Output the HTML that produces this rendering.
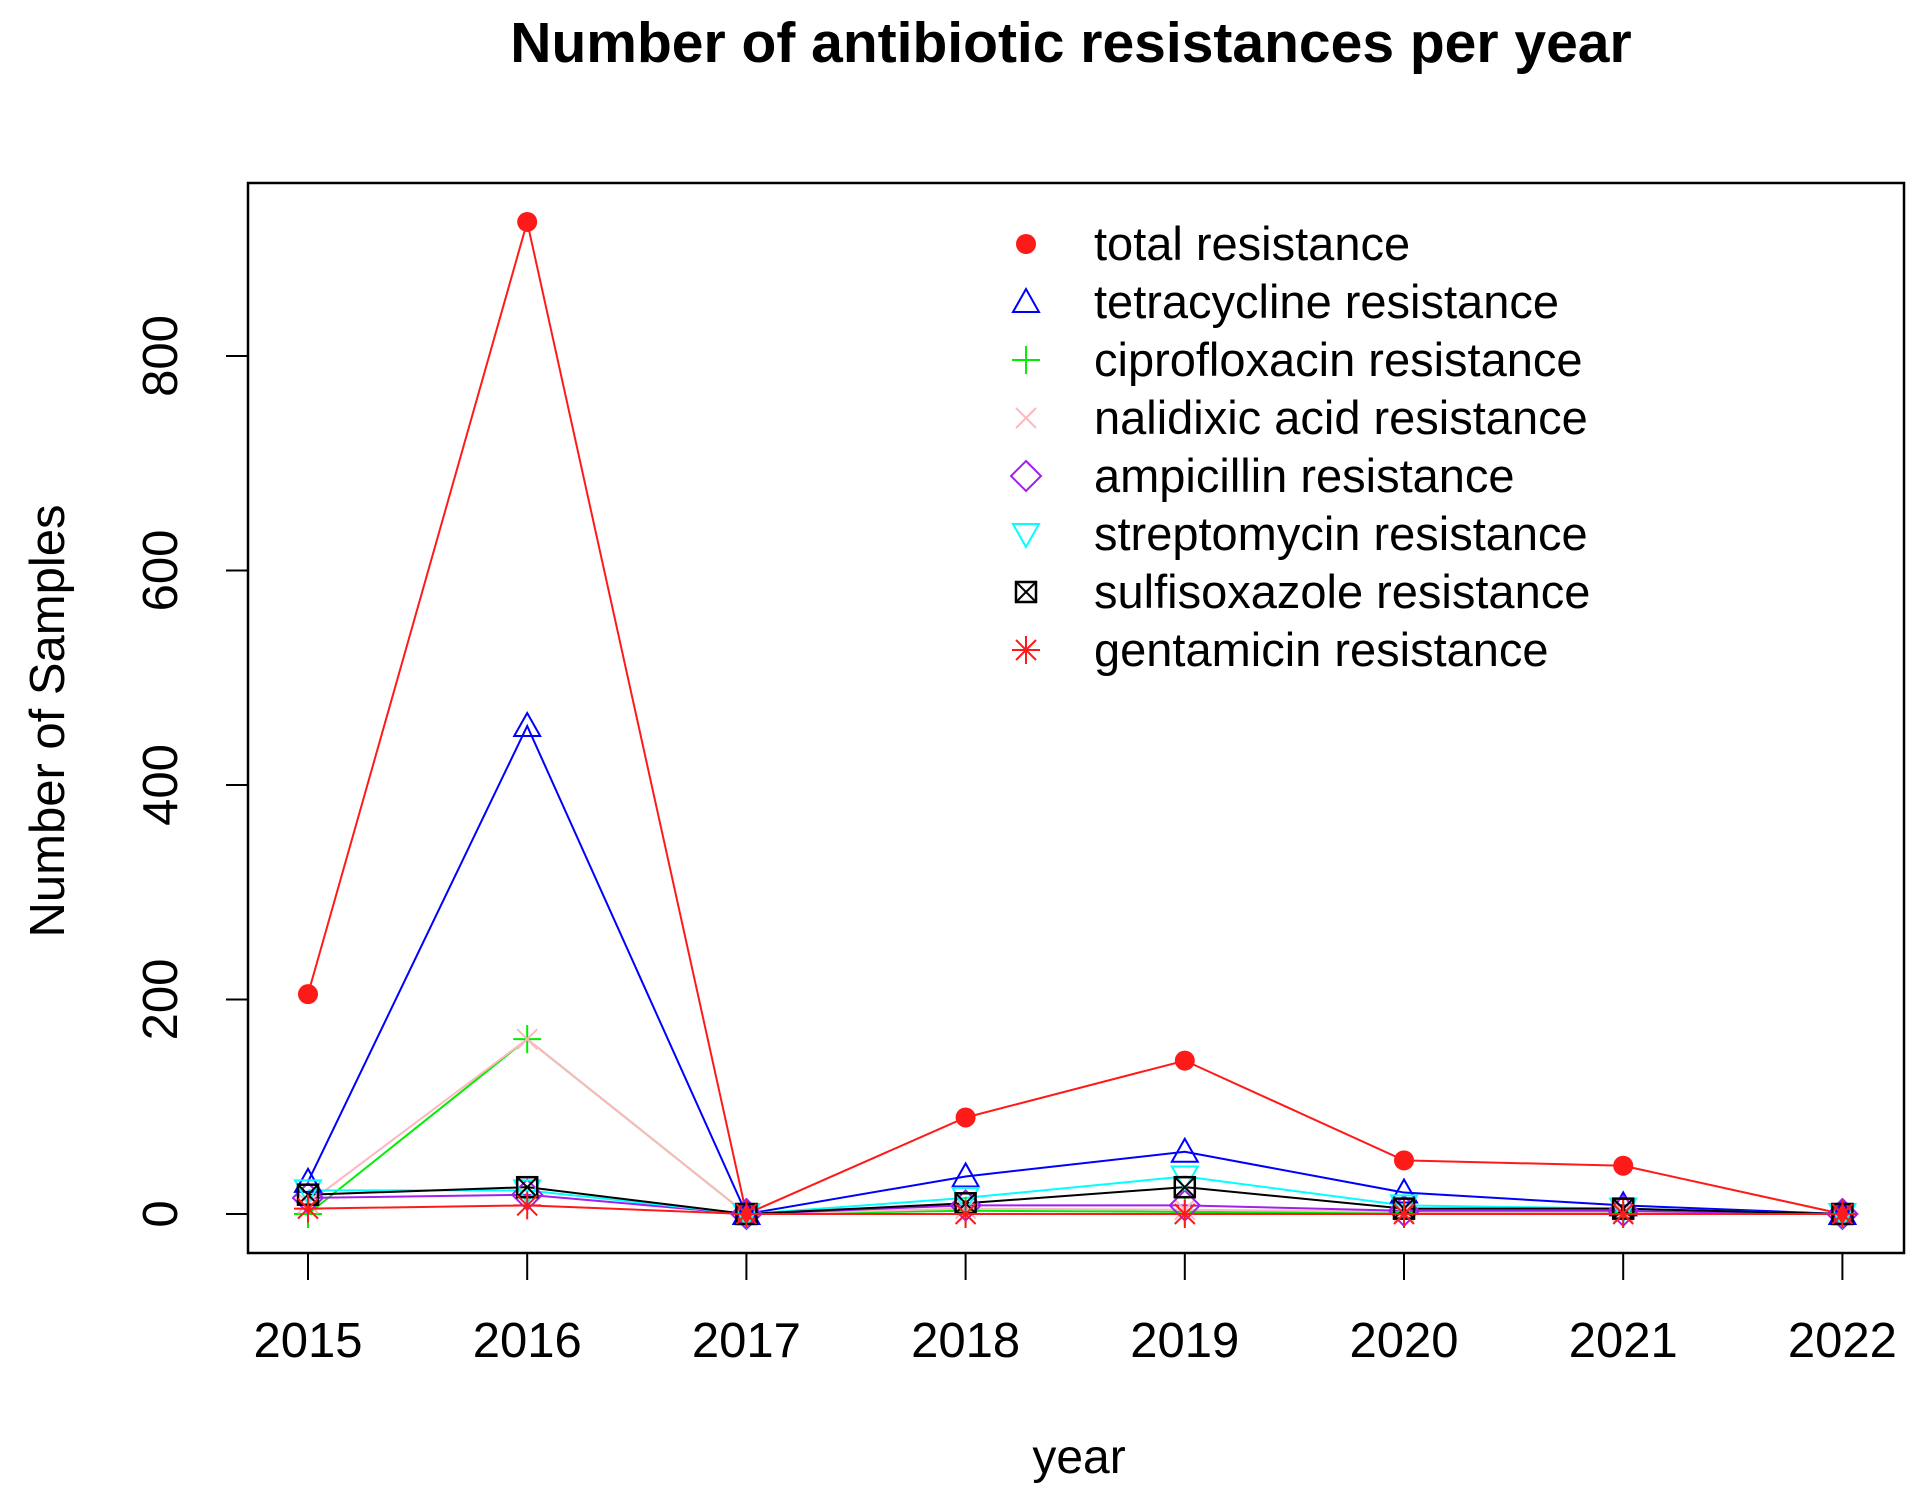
<!DOCTYPE html>
<html><head><meta charset="utf-8"><style>
html,body{margin:0;padding:0;background:#fff}
svg{display:block;font-family:"Liberation Sans",Arial,sans-serif}
</style></head><body>
<svg id="s" width="1926" height="1503" viewBox="0 0 1926 1503" xmlns="http://www.w3.org/2000/svg">
<rect width="1926" height="1503" fill="#fff"/>
<text x="1071" y="62" font-size="57" font-weight="bold" text-anchor="middle">Number of antibiotic resistances per year</text>
<rect x="248" y="183" width="1656" height="1070" fill="none" stroke="#000" stroke-width="2.5"/>
<text transform="translate(64,721) rotate(-90)" font-size="49" text-anchor="middle">Number of Samples</text>
<text x="1079" y="1473" font-size="48" text-anchor="middle">year</text>
<g id="g"></g>
</svg>
<script>
var g=document.getElementById('g'),NS="http://www.w3.org/2000/svg";
function el(t,a,txt){var e=document.createElementNS(NS,t);for(var k in a)e.setAttribute(k,a[k]);if(txt!=null)e.textContent=txt;g.appendChild(e);return e;}
function X(i){return 308+i*219.2}
function Y(v){return 1214-v*1.0725}
el('line',{x1:248,y1:Y(0),x2:248,y2:Y(800),stroke:'#000','stroke-width':2});
[0,200,400,600,800].forEach(function(v){
 el('line',{x1:226,y1:Y(v),x2:248,y2:Y(v),stroke:'#000','stroke-width':2});
 el('text',{transform:'translate(177,'+Y(v)+') rotate(-90)','font-size':49,'text-anchor':'middle'},String(v));
});
el('line',{x1:X(0),y1:1253,x2:X(7),y2:1253,stroke:'#000','stroke-width':2});
for(var i=0;i<8;i++){
 el('line',{x1:X(i),y1:1253,x2:X(i),y2:1280,stroke:'#000','stroke-width':2});
 el('text',{x:X(i),y:1357,'font-size':49,'text-anchor':'middle'},String(2015+i));
}
function sym(type,c,x,y){
 if(type==='dot')el('circle',{cx:x,cy:y,r:10,fill:c});
 else if(type==='tri')el('polygon',{points:(x)+','+(y-13)+' '+(x-13)+','+(y+10)+' '+(x+13)+','+(y+10),fill:'none',stroke:c,'stroke-width':2});
 else if(type==='plus'){el('path',{d:'M'+(x-14)+' '+y+'H'+(x+14)+'M'+x+' '+(y-14)+'V'+(y+14),stroke:c,'stroke-width':2});}
 else if(type==='x'){el('path',{d:'M'+(x-10)+' '+(y-10)+'L'+(x+10)+' '+(y+10)+'M'+(x+10)+' '+(y-10)+'L'+(x-10)+' '+(y+10),stroke:c,'stroke-width':2});}
 else if(type==='dia')el('polygon',{points:x+','+(y-15)+' '+(x+15)+','+y+' '+x+','+(y+15)+' '+(x-15)+','+y,fill:'none',stroke:c,'stroke-width':2});
 else if(type==='tri2')el('polygon',{points:(x)+','+(y+13)+' '+(x-13)+','+(y-10)+' '+(x+13)+','+(y-10),fill:'none',stroke:c,'stroke-width':2});
 else if(type==='box'){el('rect',{x:x-10,y:y-10,width:20,height:20,fill:'none',stroke:c,'stroke-width':2.5});el('path',{d:'M'+(x-10)+' '+(y-10)+'L'+(x+10)+' '+(y+10)+'M'+(x+10)+' '+(y-10)+'L'+(x-10)+' '+(y+10),stroke:c,'stroke-width':2});}
 else if(type==='star'){el('path',{d:'M'+(x-14)+' '+y+'H'+(x+14)+'M'+x+' '+(y-14)+'V'+(y+14)+'M'+(x-10)+' '+(y-10)+'L'+(x+10)+' '+(y+10)+'M'+(x+10)+' '+(y-10)+'L'+(x-10)+' '+(y+10),stroke:c,'stroke-width':2});}
}
var S=[
 ['total resistance','#ff1a1a','dot',[205,925,0,90,143,50,45,0]],
 ['tetracycline resistance','#0000ff','tri',[30,455,0,35,58,20,8,0]],
 ['ciprofloxacin resistance','#00ee00','plus',[0,163,0,3,2,1,1,0]],
 ['nalidixic acid resistance','#ffb6c1','x',[10,163,0,5,4,2,2,0]],
 ['ampicillin resistance','#a020f0','dia',[15,18,0,8,8,3,3,0]],
 ['streptomycin resistance','#00ffff','tri2',[22,22,0,15,35,8,5,0]],
 ['sulfisoxazole resistance','#000000','box',[18,25,0,10,25,5,5,0]],
 ['gentamicin resistance','#ff1a1a','star',[5,8,0,0,0,0,0,0]]
];
S.forEach(function(s){
 var d='';s[3].forEach(function(v,i){d+=(i?'L':'M')+X(i)+' '+Y(v)});
 el('path',{d:d,fill:'none',stroke:s[1],'stroke-width':2});
});
S.forEach(function(s){s[3].forEach(function(v,i){sym(s[2],s[1],X(i),Y(v))});});
S.forEach(function(s,k){
 var y=244+k*58;
 sym(s[2],s[1],1026,y);
 el('text',{x:1094,y:y+16,'font-size':47},s[0]);
});
</script>
</body></html>
